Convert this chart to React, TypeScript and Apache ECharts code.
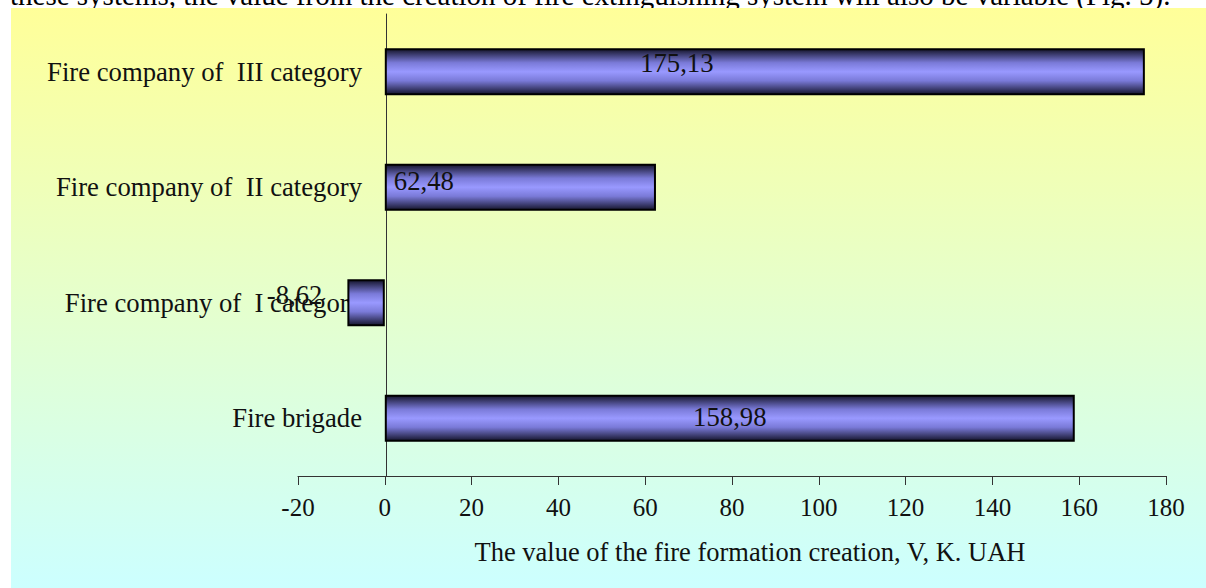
import React, { useEffect, useRef } from "react";
import * as echarts from "echarts";

const categories = [
  "Fire brigade",
  "Fire company of  I category",
  "Fire company of  II category",
  "Fire company of  III category",
];
const values = [158.98, -8.62, 62.48, 175.13];
const xTicks = { min: -20, max: 180, interval: 20 };
const axisTitle = "The value of the fire formation creation, V, K. UAH";
const topLine =
  "these systems, the value from the creation of fire extinguishing system will also be variable (Fig. 5).";

const FONT = "'Liberation Serif', 'Times New Roman', serif";

export default function App() {
  const ref = useRef<HTMLDivElement>(null);
  useEffect(() => {
    document.body.style.margin = "0";
    if (!ref.current) return;
    const chart = echarts.init(ref.current, null, { renderer: "svg" });
    const labelLayouts: any[] = [
      { position: "inside", offset: [0, -1] },
      { position: "left", distance: 25, offset: [0, -8] },
      { position: "insideLeft", distance: 9, offset: [0, -6] },
      { position: "inside", offset: [-88, -9] },
    ];
    const barFill = new echarts.graphic.LinearGradient(0, 0, 0, 1, [
      { offset: 0, color: "#16162e" },
      { offset: 0.3, color: "#7a7ad8" },
      { offset: 0.5, color: "#9999ff" },
      { offset: 0.7, color: "#7a7ad8" },
      { offset: 1, color: "#16162e" },
    ]);
    chart.setOption({
      animation: false,
      graphic: [
        {
          type: "text",
          z: -20,
          silent: true,
          x: 10,
          y: 9,
          style: {
            text: topLine,
            font: `29px ${FONT}`,
            fill: "#000",
            align: "left",
            verticalAlign: "bottom",
          },
        },
        {
          type: "rect",
          z: -10,
          silent: true,
          shape: { x: 11, y: 8, width: 1195, height: 580 },
          style: {
            fill: new echarts.graphic.LinearGradient(0, 0, 0, 1, [
              { offset: 0, color: "#ffff99" },
              { offset: 1, color: "#ccffff" },
            ]),
          },
        },
      ],
      grid: {
        left: 298,
        right: 40,
        top: 14,
        bottom: 112,
        containLabel: false,
        outerBoundsMode: "none",
      },
      xAxis: {
        type: "value",
        min: xTicks.min,
        max: xTicks.max,
        interval: xTicks.interval,
        name: axisTitle,
        nameLocation: "middle",
        nameGap: 62,
        nameTextStyle: {
          fontFamily: FONT,
          fontSize: 26.5,
          color: "#111",
          padding: [0, 0, 0, 36],
        },
        axisLine: { show: true, lineStyle: { color: "#333", width: 1 } },
        axisTick: { show: true, length: 9, lineStyle: { color: "#333" } },
        splitLine: { show: false },
        axisLabel: { fontFamily: FONT, fontSize: 25, color: "#111", margin: 19 },
      },
      yAxis: {
        type: "category",
        data: categories,
        offset: -88,
        axisLine: { show: true, onZero: false, lineStyle: { color: "#333", width: 1 } },
        axisTick: { show: false },
        axisLabel: { fontFamily: FONT, fontSize: 26.7, color: "#111", margin: 24 },
      },
      series: [
        {
          type: "bar",
          barWidth: 47,
          data: values.map((v, i) => ({ value: v, label: labelLayouts[i] })),
          itemStyle: { color: barFill, borderColor: "#000", borderWidth: 2 },
          label: {
            show: true,
            fontFamily: FONT,
            fontSize: 26.7,
            color: "#111",
            formatter: (p: any) => String(p.value).replace(".", ","),
          },
        },
      ],
    });
    return () => chart.dispose();
  }, []);
  return <div ref={ref} style={{ width: 1206, height: 588 }} />;
}
